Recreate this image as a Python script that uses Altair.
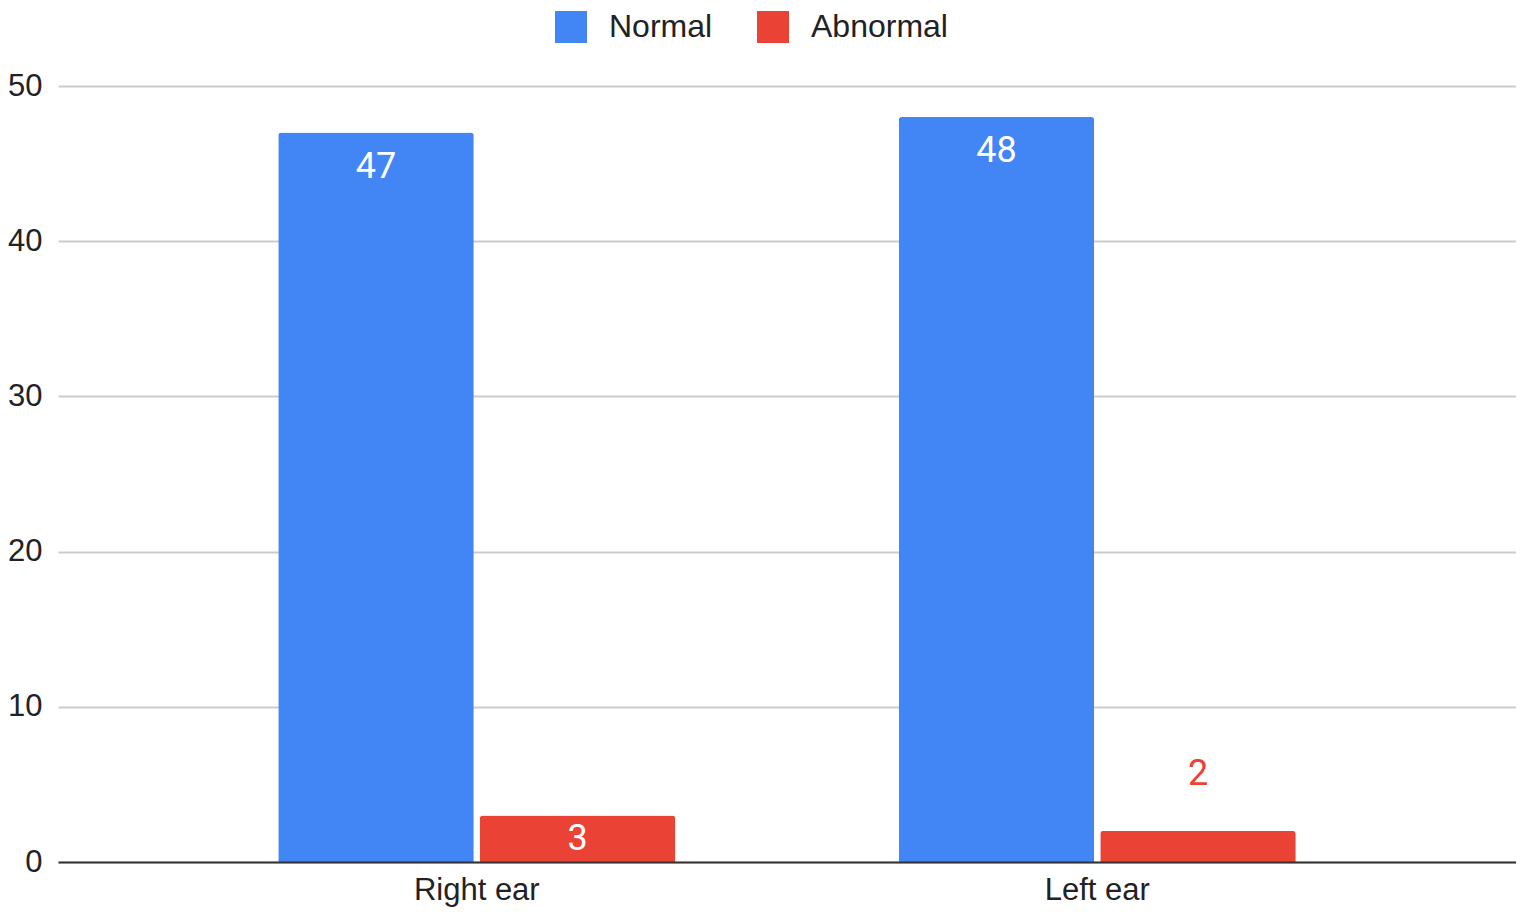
import altair as alt
import pandas as pd

categories = ["Right ear", "Left ear"]
series = ["Normal", "Abnormal"]
normal_values = [47, 48]
abnormal_values = [3, 2]
y_ticks = [0, 10, 20, 30, 40, 50]
colors = ["#4285F4", "#EA4335"]

rows = []
for i, c in enumerate(categories):
    rows.append({"category": c, "series": series[0], "value": normal_values[i]})
    rows.append({"category": c, "series": series[1], "value": abnormal_values[i]})
df = pd.DataFrame(rows)

FONT = "Liberation Sans"

x = alt.X(
    "category:N", sort=categories, title=None,
    scale=alt.Scale(paddingInner=0.36, paddingOuter=0.355),
    axis=alt.Axis(labelAngle=0, labelFont=FONT, labelFontSize=31, labelColor="#222222",
                  domainColor="#333333", domainWidth=2, ticks=False, labelPadding=13,
                  zindex=1),
)
xo = alt.XOffset("series:N", sort=series, scale=alt.Scale(paddingInner=0.03))
y_scale = alt.Scale(domain=[0, 50])
y_axis = alt.Axis(values=y_ticks, labelFont=FONT, labelFontSize=31, labelColor="#222222",
                  domain=False, ticks=False, labelPadding=16, gridColor="#cccccc",
                  gridWidth=2)
color = alt.Color(
    "series:N", sort=series,
    scale=alt.Scale(domain=series, range=colors),
    legend=alt.Legend(orient="none", legendX=497, legendY=-75, direction="horizontal",
                      title=None, symbolType="square", symbolSize=1024,
                      symbolStrokeWidth=0, symbolOpacity=1, labelFont=FONT,
                      labelFontSize=32, labelColor="#222222", labelOffset=22,
                      columnPadding=44),
)

base = alt.Chart(df)

bars = base.mark_bar(cornerRadiusTopLeft=3, cornerRadiusTopRight=3).encode(
    x=x, xOffset=xo,
    y=alt.Y("value:Q", scale=y_scale, axis=y_axis, title=None),
    color=color,
)

labeled = base.transform_calculate(
    label_y="datum.value >= 3 ? max(datum.value - 2.2, datum.value / 2) : datum.value + 3.7"
)

inside = labeled.transform_filter("datum.value >= 3").mark_text(
    font="Roboto", fontSize=36, color="white", baseline="middle", align="center"
).encode(
    x=x, xOffset=xo,
    y=alt.Y("label_y:Q", scale=y_scale, title=None),
    text=alt.Text("value:Q"),
)

outside = labeled.transform_filter("datum.value < 3").mark_text(
    font="Roboto", fontSize=36, baseline="middle", align="center"
).encode(
    x=x, xOffset=xo,
    y=alt.Y("label_y:Q", scale=y_scale, title=None),
    text=alt.Text("value:Q"),
    color=color,
)

chart = alt.layer(bars, inside, outside).properties(
    width=1458, height=776,
    padding={"left": 50, "top": 78, "right": 0, "bottom": 47},
    autosize=alt.AutoSizeParams(type="none"),
).configure_view(stroke=None)

chart.save("out.html", embed_options={"renderer": "svg", "actions": False})
